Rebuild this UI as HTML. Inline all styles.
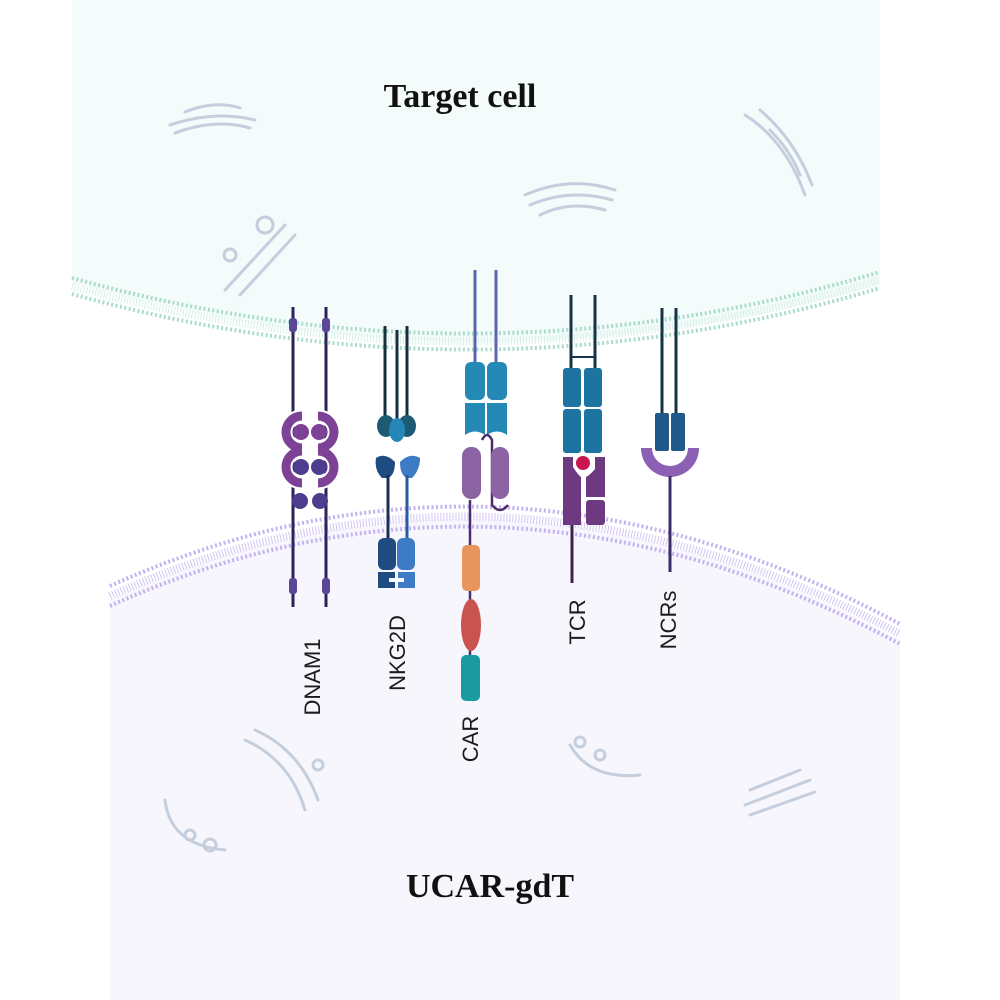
<!DOCTYPE html>
<html><head><meta charset="utf-8"><style>
html,body{margin:0;padding:0;background:#fff;}
svg{display:block}
.s{font-family:"Liberation Sans",sans-serif;}
.t{font-family:"Liberation Serif",serif;font-weight:600;}
</style></head><body>
<svg width="1000" height="1000" viewBox="0 0 1000 1000" xmlns="http://www.w3.org/2000/svg">
<path d="M72 0 H880 V285 Q480 400 72 282 Z" fill="#f4fbfb"/>
<path d="M110 600 Q500 420 900 640 V1000 H110 Z" fill="#f8f6fd"/>
<g fill="none" stroke="#a8dccb" stroke-width="4" stroke-dasharray="2 2.5">
<path d="M72 278 Q480 392 880 272"/>
<path d="M72 294 Q480 408 880 288"/>
</g>
<g fill="none" stroke="#d6efe7" stroke-width="8" stroke-dasharray="1 2"><path d="M72 286 Q480 400 880 280"/></g>
<g fill="none" stroke="#d2c4f3" stroke-width="8" stroke-dasharray="1 2"><path d="M110 596 Q500 420 900 634"/></g>
<g fill="none" stroke="#c3b1f0" stroke-width="4" stroke-dasharray="2 2.5">
<path d="M110 586 Q500 410 900 624"/>
<path d="M110 606 Q500 430 900 644"/>
</g>
<g fill="none" stroke="#c4cedd" stroke-width="3" stroke-linecap="round">
<path d="M170 125 Q215 110 255 120"/><path d="M175 133 Q215 118 250 128"/><path d="M185 112 Q215 100 240 108"/>
<path d="M745 115 Q785 140 805 195"/><path d="M760 110 Q795 140 812 185"/><path d="M770 130 Q790 150 800 175"/>
<path d="M525 195 Q570 175 615 190"/><path d="M530 205 Q570 188 612 200"/><path d="M540 215 Q570 200 605 210"/>
<path d="M225 290 L285 225"/><path d="M240 295 L295 235"/><circle cx="265" cy="225" r="8"/><circle cx="230" cy="255" r="6"/>
<path d="M245 740 Q290 760 305 810"/><path d="M255 730 Q300 750 318 800"/><circle cx="318" cy="765" r="5"/>
<path d="M165 800 Q170 845 225 850"/><circle cx="190" cy="835" r="5"/><circle cx="210" cy="845" r="6"/>
<path d="M570 745 Q590 780 640 775"/><circle cx="580" cy="742" r="5"/><circle cx="600" cy="755" r="5"/>
<path d="M750 790 L800 770"/><path d="M745 805 L810 780"/><path d="M750 815 L815 792"/>
</g>
<!-- DNAM1 -->
<g stroke="#2b235a" stroke-width="3"><line x1="293" y1="307" x2="293" y2="607"/><line x1="326" y1="307" x2="326" y2="607"/></g>
<g fill="#5b479a"><rect x="289" y="318" width="8" height="14" rx="3"/><rect x="322" y="318" width="8" height="14" rx="3"/>
<rect x="289" y="578" width="8" height="16" rx="3"/><rect x="322" y="578" width="8" height="16" rx="3"/></g>
<g fill="none" stroke="#fff" stroke-width="13">
<path d="M302 416 A16 16 0 0 0 302 448"/><path d="M302 451 A16 16 0 0 0 302 483"/>
<path d="M318 416 A16 16 0 0 1 318 448"/><path d="M318 451 A16 16 0 0 1 318 483"/>
</g>
<g fill="none" stroke="#7d4196" stroke-width="9">
<path d="M302 416 A16 16 0 0 0 302 448"/><path d="M302 451 A16 16 0 0 0 302 483"/>
<path d="M318 416 A16 16 0 0 1 318 448"/><path d="M318 451 A16 16 0 0 1 318 483"/>
</g>
<g fill="#7d4196"><circle cx="301" cy="432" r="8"/><circle cx="319" cy="432" r="8"/></g>
<g fill="#4e3d8e"><circle cx="301" cy="467" r="8"/><circle cx="319" cy="467" r="8"/><circle cx="300" cy="501" r="8"/><circle cx="320" cy="501" r="8"/></g>
<!-- NKG2D -->
<g stroke="#14303f" stroke-width="3"><line x1="385" y1="326" x2="385" y2="420"/><line x1="397" y1="330" x2="397" y2="420"/><line x1="407" y1="326" x2="407" y2="420"/></g>
<ellipse cx="386" cy="426" rx="9" ry="11" fill="#1d5a74"/><ellipse cx="407" cy="426" rx="9" ry="11" fill="#1d5a74"/><ellipse cx="397" cy="430" rx="8" ry="12" fill="#2786b8"/>
<path d="M376 458 Q385 452 395 462 Q395 475 388 478 L382 478 Q374 470 376 458Z" fill="#1f4c80"/>
<path d="M420 458 Q410 452 400 462 Q400 475 407 478 L412 478 Q420 470 420 458Z" fill="#3d7cc4"/>
<line x1="388" y1="475" x2="388" y2="540" stroke="#1a2f55" stroke-width="3"/><line x1="407" y1="475" x2="407" y2="540" stroke="#2a5aa0" stroke-width="3"/>
<rect x="378" y="538" width="18" height="32" rx="6" fill="#1f4c80"/><rect x="397" y="538" width="18" height="32" rx="6" fill="#3d7cc4"/>
<path d="M378 572 h17 v6 h-6 v4 h6 v6 h-17Z" fill="#1f4c80"/><path d="M415 572 h-17 v6 h6 v4 h-6 v6 h17Z" fill="#3d7cc4"/>
<!-- CAR -->
<g stroke="#5a64b0" stroke-width="3"><line x1="475" y1="270" x2="475" y2="365"/><line x1="496" y1="270" x2="496" y2="365"/></g>
<g fill="#2589b6"><rect x="465" y="362" width="20" height="38" rx="6"/><rect x="487" y="362" width="20" height="38" rx="6"/>
<path d="M465 403 h20 v32 Q475 428 465 435Z"/><path d="M487 403 h20 v32 Q497 428 487 435Z"/></g>
<path d="M482 440 Q487 430 492 440 L492 505 Q500 515 508 505" fill="none" stroke="#4a2d6e" stroke-width="2.5"/>
<rect x="462" y="447" width="19" height="52" rx="9" fill="#8c64a4"/><rect x="491" y="447" width="18" height="52" rx="9" fill="#8c64a4"/>
<line x1="470" y1="500" x2="470" y2="700" stroke="#4a2d6e" stroke-width="2.5"/>
<rect x="462" y="545" width="18" height="46" rx="5" fill="#e8955e"/>
<ellipse cx="471" cy="625" rx="10" ry="26" fill="#c9544f"/>
<rect x="461" y="655" width="19" height="46" rx="5" fill="#1b9ba0"/>
<!-- TCR -->
<g stroke="#163446" stroke-width="3"><line x1="571" y1="295" x2="571" y2="368"/><line x1="595" y1="295" x2="595" y2="368"/><line x1="571" y1="357" x2="595" y2="357" stroke-width="2"/></g>
<g fill="#1d74a0"><rect x="563" y="368" width="18" height="39" rx="3"/><rect x="584" y="368" width="18" height="39" rx="3"/>
<rect x="563" y="409" width="18" height="44" rx="3"/><rect x="584" y="409" width="18" height="44" rx="3"/></g>
<g fill="#6d3a82"><path d="M563 457 h10 v10 q5 8 8 10 v48 h-18Z"/><path d="M605 457 h-10 v12 q-5 6 -9 8 v20 h19Z"/><rect x="586" y="500" width="19" height="25" rx="3"/></g>
<line x1="572" y1="525" x2="572" y2="583" stroke="#3d2350" stroke-width="3"/>
<circle cx="583" cy="463" r="9" fill="#fff"/><circle cx="583" cy="463" r="7" fill="#c8164f"/>
<!-- NCRs -->
<g stroke="#163446" stroke-width="3"><line x1="662" y1="308" x2="662" y2="415"/><line x1="676" y1="308" x2="676" y2="415"/></g>
<rect x="655" y="413" width="14" height="38" rx="2" fill="#215a8a"/><rect x="671" y="413" width="14" height="38" rx="2" fill="#215a8a"/>
<path d="M641 448 A29 29 0 0 0 699 448 L688 448 A18 18 0 0 1 652 448Z" fill="#8c60b4"/>
<line x1="670" y1="476" x2="670" y2="572" stroke="#3d2e6a" stroke-width="3"/>
<g class="s" font-size="22" fill="#1c1c1c" text-anchor="middle">
<text transform="translate(320,677) rotate(-90)">DNAM1</text>
<text transform="translate(405,653) rotate(-90)">NKG2D</text>
<text transform="translate(478,739) rotate(-90)">CAR</text>
<text transform="translate(585,622) rotate(-90)">TCR</text>
<text transform="translate(676,620) rotate(-90)">NCRs</text>
</g>
<text class="t" x="460" y="107" font-size="34" text-anchor="middle" fill="#111">Target cell</text>
<text class="t" x="490" y="897" font-size="34" text-anchor="middle" fill="#111">UCAR-gdT</text>
</svg>
</body></html>
